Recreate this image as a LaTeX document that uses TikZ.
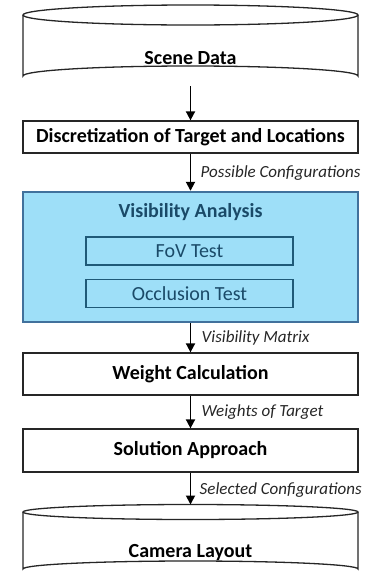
\documentclass[tikz,border=0pt]{standalone}
\usepackage{fontspec}
\setmainfont{Carlito}
\usetikzlibrary{arrows.meta,shapes.geometric}
\definecolor{vfill}{HTML}{9EDFF8}
\definecolor{vborder}{HTML}{41719C}
\definecolor{vtext}{HTML}{1A4A68}
\definecolor{vinner}{HTML}{1F5A78}
\begin{document}
\begin{tikzpicture}[x=1pt,y=-1pt,
  proc/.style={draw=black!85, line width=1.3pt, fill=white},
  btxt/.style={font=\fontsize{20}{22}\selectfont\bfseries},
  lbl/.style={font=\fontsize{17}{19}\selectfont\itshape, anchor=west, text=black!85},
  arr/.style={-{Triangle[length=9pt,width=9pt]}, line width=1.8pt},
  inner/.style={draw=vinner, line width=1.2pt, text=vtext, font=\fontsize{20}{22}\selectfont, minimum width=207pt, minimum height=28pt, inner sep=0pt}
]
\useasboundingbox (0,0) rectangle (371,576);
% Scene Data cylinder
\draw[proc] (23,15) -- (23,76) arc[start angle=180,end angle=360,x radius=167.5,y radius=10] -- (358,15);
\draw[proc] (190.5,15) ellipse[x radius=167.5,y radius=10];
\node[btxt] (scene) at (190.5,58) {Scene Data};
\coordinate (sceneb) at (190.5,86);
% Discretization
\node[proc, btxt, minimum width=335pt, minimum height=32pt, inner sep=0pt] (disc) at (190.5,137) {Discretization of Target and Locations};
% Visibility
\node[draw=vborder, line width=2.4pt, fill=vfill, minimum width=335pt, minimum height=130pt, inner sep=0pt] (vis) at (190.5,257) {};
\node[btxt, text=vtext] (vistitle) at (190.5,212) {Visibility Analysis};
\node[inner] (fov) at (189.5,251) {FoV Test};
\node[inner] (occ) at (189.5,293.5) {Occlusion Test};
% Weight
\node[proc, btxt, minimum width=335pt, minimum height=42pt, inner sep=0pt] (wc) at (190.5,374) {Weight Calculation};
% Solution
\node[proc, btxt, minimum width=335pt, minimum height=43pt, inner sep=0pt] (sol) at (190.5,450.5) {Solution Approach};
% Camera layout cylinder
\draw[proc] (23,512) -- (23,569) arc[start angle=180,end angle=360,x radius=167.5,y radius=8] -- (358,512);
\draw[proc] (190.5,512) ellipse[x radius=167.5,y radius=7.5];
\node[btxt] (cam) at (190.5,553) {Camera Layout};
\coordinate (camt) at (190.5,504.5);
% arrows
\draw[arr] (sceneb) -- (disc.north);
\draw[arr] (disc.south) -- node[lbl, xshift=6pt, yshift=-1pt] {Possible Configurations} (vis.north);
\draw[arr] (vis.south) -- node[lbl, xshift=7pt] {Visibility Matrix} (wc.north);
\draw[arr] (wc.south) -- node[lbl, xshift=7pt] {Weights of Target} (sol.north);
\draw[arr] (sol.south) -- node[lbl, xshift=5pt, yshift=-1pt] {Selected Configurations} (camt);
\end{tikzpicture}
\end{document}
